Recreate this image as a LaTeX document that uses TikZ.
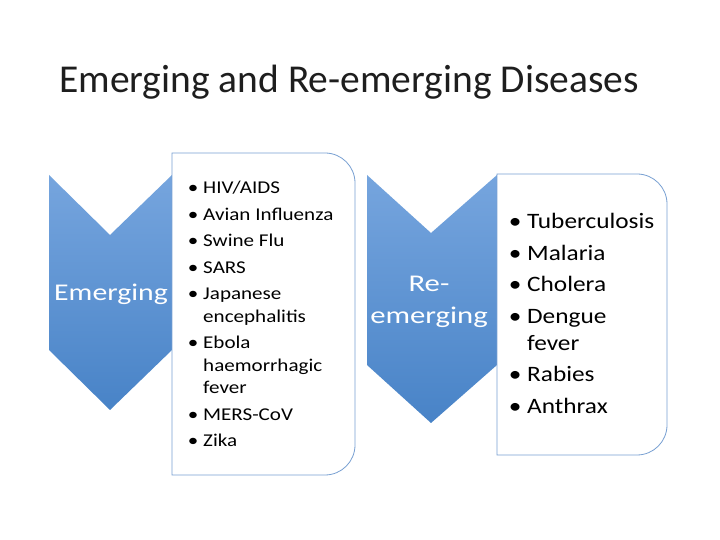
\documentclass[tikz,border=0pt]{standalone}
\usepackage{fontspec}
\setmainfont{Carlito}
\definecolor{chevtop}{RGB}{118,165,222}
\definecolor{chevbot}{RGB}{72,131,199}
\definecolor{boxline}{RGB}{120,160,210}
\definecolor{titlecol}{RGB}{30,30,30}
\tikzset{
  chev/.style={top color=chevtop,bottom color=chevbot,draw=none},
  listbox/.style={draw=boxline,line width=0.8pt,fill=white},
  lbl/.style={inner sep=0pt,text=white,font=\fontsize{24}{32}\selectfont,align=center},
  lista/.style={inner sep=0pt,anchor=base west,font=\fontsize{18}{22.5}\selectfont},
  listb/.style={inner sep=0pt,anchor=base west,font=\fontsize{22}{27}\selectfont},
}
\newcommand{\bula}{\makebox[10.3pt][c]{•}}
\newcommand{\bulb}{\makebox[12.2pt][c]{•}}
\begin{document}
\begin{tikzpicture}[x=1pt,y=1pt]
\useasboundingbox (0,0) rectangle (720,540);
\fill[white] (0,0) rectangle (720,540);
% title
\node[inner sep=0pt,anchor=base west,font=\fontsize{39.5}{48}\selectfont,text=titlecol] (title) at (59,447) {Emerging and Re-emerging Diseases};
% left chevron and box
\shade[chev] (49,365) -- (110,305) -- (172,365) -- (172,190) -- (110,130) -- (49,190) -- cycle;
\draw[listbox] (172,65) -- (172,387) -- (325,387) arc[start angle=90,end angle=0,radius=30] -- (355,95) arc[start angle=0,end angle=-90,radius=30] -- cycle;
\node[lbl,anchor=base] (em) at (111,239) {\scalebox{1.24}[1]{Emerging}};
\node[lista] (lefttext) at (187,346) {\scalebox{1.17}[1]{\begin{tabular}[t]{@{}l@{\hspace{3.4pt}}l@{}}
\bula&HIV/AIDS\\[4pt]
\bula&Avian Influenza\\[4pt]
\bula&Swine Flu\\[4pt]
\bula&SARS\\[4pt]
\bula&Japanese\\
&encephalitis\\[4pt]
\bula&Ebola\\
&haemorrhagic\\
&fever\\[4pt]
\bula&MERS-CoV\\[4pt]
\bula&Zika
\end{tabular}}};
% right chevron and box
\shade[chev] (367,365) -- (431,307) -- (497,365) -- (497,175) -- (431,117) -- (367,175) -- cycle;
\draw[listbox] (497,85) -- (497,366) -- (637,366) arc[start angle=90,end angle=0,radius=30] -- (667,115) arc[start angle=0,end angle=-90,radius=30] -- cycle;
\node[lbl,anchor=base] (re1) at (429,248) {\scalebox{1.28}[1]{Re-}};
\node[lbl,anchor=base] (re2) at (429,216) {\scalebox{1.28}[1]{emerging}};
\node[listb] (righttext) at (508,311) {\scalebox{1.15}[1]{\begin{tabular}[t]{@{}l@{\hspace{4.3pt}}l@{}}
\bulb&Tuberculosis\\[4.5pt]
\bulb&Malaria\\[4.5pt]
\bulb&Cholera\\[4.5pt]
\bulb&Dengue\\
&fever\\[4.5pt]
\bulb&Rabies\\[4.5pt]
\bulb&Anthrax
\end{tabular}}};
\end{tikzpicture}
\end{document}
